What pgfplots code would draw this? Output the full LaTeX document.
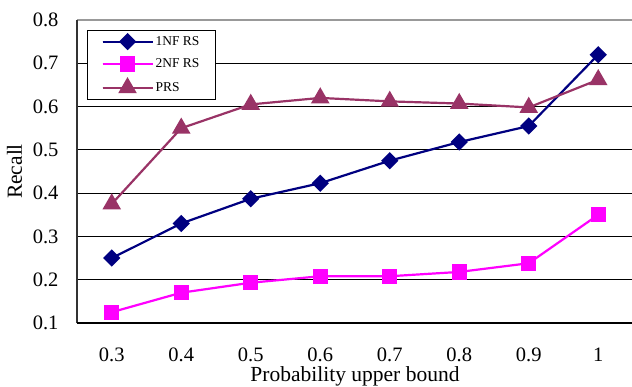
\documentclass[border=0pt]{standalone}
\usepackage{fontspec}
\setmainfont{Liberation Serif}
\usepackage{pgfplots}
\pgfplotsset{compat=1.18}
\definecolor{navyc}{RGB}{0,0,128}
\definecolor{magc}{RGB}{255,0,255}
\definecolor{plumc}{RGB}{153,51,102}
\begin{document}
\begin{tikzpicture}
\begin{axis}[
  at={(0pt,0pt)}, anchor=south west,
  scale only axis, width=556pt, height=303pt,
  xmin=-0.5, xmax=7.5, ymin=0.1, ymax=0.8,
  xtick={0,...,7},
  xticklabels={0.3,0.4,0.5,0.6,0.7,0.8,0.9,1},
  x tick style={draw=none},
  extra x ticks={0.5,1.5,...,6.5},
  extra x tick labels={},
  extra x tick style={grid=none, major tick length=6pt, tick align=inside, tick style={draw=black, line width=0.8pt}},
  ytick={0.1,0.2,...,0.8},
  yticklabel style={/pgf/number format/fixed, /pgf/number format/fixed zerofill, /pgf/number format/precision=1},
  y tick style={draw=none},
  ymajorgrids, major grid style={black, line width=0.8pt},
  axis line style={draw=none},
  tick label style={font=\fontsize{20.5}{22}\selectfont},
  /pgf/number format/assume math mode=true,
  xticklabel style={yshift=-21pt},
  yticklabel style={xshift=-15pt},
  xlabel={Probability upper bound},
  ylabel={Recall},
  label style={font=\fontsize{21.5}{23}\selectfont},
  xlabel style={yshift=2pt},
  ylabel style={yshift=4pt},
  legend style={at={(0.018,0.967)}, anchor=north west, draw=black, line width=0.8pt,
    font=\fontsize{13.5}{15}\selectfont, row sep=8pt, inner xsep=14pt, inner ysep=4pt, legend cell align=left},
  legend image code/.code={\draw[#1] (0pt,0pt) -- (50pt,0pt); \draw[#1, mark repeat=2, mark phase=2] plot coordinates {(0pt,0pt) (25pt,0pt) (50pt,0pt)};},
  clip=false,
]
\draw[gray!80, line width=1.5pt] (rel axis cs:0,1) -- (rel axis cs:1,1);
\draw[black!80, line width=1.8pt] (rel axis cs:0,0) -- (rel axis cs:0,1);
\draw[black, line width=1.8pt] (rel axis cs:0,0) -- (rel axis cs:1,0);
\addplot[navyc, line width=2.2pt, mark=square*, mark size=5pt, mark options={rotate=45, solid, fill=navyc}]
  coordinates {(0,0.250) (1,0.330) (2,0.387) (3,0.423) (4,0.475) (5,0.518) (6,0.555) (7,0.720)};
\addlegendentry{1NF RS}
\addplot[magc, line width=2.2pt, mark=square*, mark size=6.5pt, mark options={solid, fill=magc}]
  coordinates {(0,0.125) (1,0.170) (2,0.193) (3,0.208) (4,0.208) (5,0.218) (6,0.238) (7,0.350)};
\addlegendentry{2NF RS}
\addplot[plumc, line width=2.2pt, mark=triangle*, mark size=8.5pt, mark options={solid, fill=plumc}]
  coordinates {(0,0.375) (1,0.550) (2,0.605) (3,0.620) (4,0.612) (5,0.607) (6,0.598) (7,0.662)};
\addlegendentry{PRS}
\end{axis}
\pgfresetboundingbox
\path[use as bounding box] (-77pt,-64pt) rectangle (555pt,323pt);
\end{tikzpicture}
\end{document}
